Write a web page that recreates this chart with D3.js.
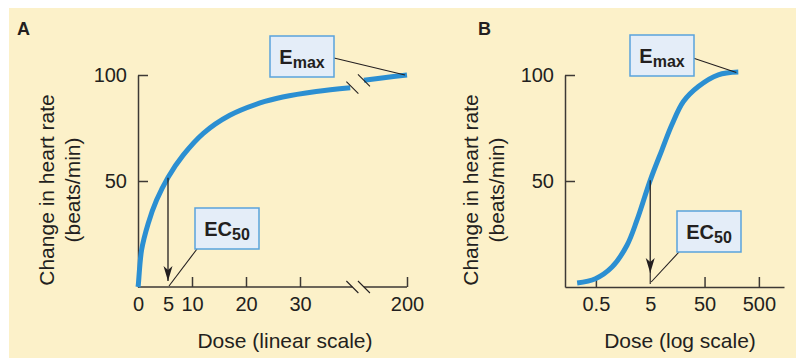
<!DOCTYPE html>
<html>
<head>
<meta charset="utf-8">
<script src="https://cdn.jsdelivr.net/npm/d3@7"></script>
<style>
  body { margin: 0; background: #fff; }
  svg { display: block; font-family: 'Liberation Sans', Arial, Helvetica, sans-serif; }
  .axis path, .axis line { stroke: #3d3935; stroke-width: 1.5; }
  .axis text { font-size: 20px; fill: #231f20; font-family: 'Liberation Sans', Arial, sans-serif; }
  .label { font-size: 21px; fill: #231f20; }
</style>
</head>
<body>
<script>
// Panel A - linear dose axis (broken between ~40 and 200)
var doseA = [0, 0.05, 0.6, 1.7, 3.1, 5, 8.2, 12.1, 17, 22.6, 26.8, 33, 39.3, null, 70, 130, 200]
var effectA = [0, 1, 17.5, 30, 41, 51.7, 62.3, 72.5, 81, 86.8, 89.6, 92.2, 94, null, 97.5, 98.7, 100]
var ticksA = [0, 5, 10, 20, 30, 200]
// Panel B - log dose axis
var doseB = [0.226, 0.49, 0.99, 1.87, 2.85, 5, 8.2, 12.5, 20.4, 38.5, 89.6, 209]
var effectB = [1.9, 3.9, 9.4, 19.7, 31.5, 50.3, 64.6, 76.5, 87.5, 94.6, 100.1, 101.4]
var ticksB = [0.5, 5, 50, 500]
var ticksY = [50, 100]
var ec50 = 5

var w = 796, h = 358
var ink = '#231f20'
var curveColor = '#2b8fd2'

var svg = d3.select('body').append('svg')
    .attr('width', w)
    .attr('height', h)

// background panel
svg.append('rect')
    .attr('x', 9).attr('y', 8)
    .attr('width', w - 9).attr('height', h - 8)
    .attr('fill', '#fcf1c9')

// Scales
var xA = d3.scaleLinear().domain([0, 5, 10, 40, 200]).range([138, 168, 192, 354, 407])
var yA = d3.scaleLinear().domain([0, 100]).range([287, 75])
var xB = d3.scaleLog().domain([0.135, 1450]).range([565, 784])
var yB = d3.scaleLinear().domain([0, 100]).range([287, 75])

var dataA = doseA.map(function (d, i) { return [d, effectA[i]] })
var dataB = doseB.map(function (d, i) { return [d, effectB[i]] })

// arrow head (points along the line direction)
svg.append('defs').append('marker')
    .attr('id', 'head')
    .attr('viewBox', '-16 -5 17 10')
    .attr('refX', 0).attr('refY', 0)
    .attr('markerWidth', 17).attr('markerHeight', 10)
    .attr('markerUnits', 'userSpaceOnUse')
    .attr('orient', 'auto')
  .append('path')
    .attr('d', 'M0,0L-15,-4.5L-11,0L-15,4.5Z')
    .attr('fill', ink)

function panelLetter(x, t) {
  svg.append('text')
      .attr('x', x).attr('y', 35)
      .attr('font-size', 18).attr('font-weight', 'bold')
      .attr('fill', ink)
      .text(t)
}

function yLabel(x) {
  svg.append('text').attr('class', 'label')
      .attr('transform', 'translate(' + x + ',190) rotate(-90)')
      .attr('text-anchor', 'middle')
      .text('Change in heart rate')
  svg.append('text').attr('class', 'label')
      .attr('transform', 'translate(' + (x + 26) + ',190) rotate(-90)')
      .attr('text-anchor', 'middle')
      .text('(beats/min)')
}

function box(x, y, main, sub) {
  var g = svg.append('g').attr('transform', 'translate(' + x + ',' + y + ')')
  g.append('rect')
      .attr('width', 64).attr('height', 41)
      .attr('fill', '#e4edf8')
      .attr('stroke', '#59a3dc')
      .attr('stroke-width', 1.5)
  var t = g.append('text')
      .attr('x', 32).attr('y', 27.5)
      .attr('text-anchor', 'middle')
      .attr('font-weight', 'bold')
      .attr('fill', ink)
  t.append('tspan').attr('font-size', 20).text(main)
  t.append('tspan').attr('font-size', 16).attr('dy', 4).text(sub)
}

function pointer(x1, y1, x2, y2) {
  svg.append('line')
      .attr('x1', x1).attr('y1', y1)
      .attr('x2', x2).attr('y2', y2)
      .attr('stroke', ink)
      .attr('stroke-width', 1.1)
}

function slash(cx, cy) {
  svg.append('line')
      .attr('x1', cx - 6).attr('y1', cy - 6)
      .attr('x2', cx + 6).attr('y2', cy + 6)
      .attr('stroke', ink)
      .attr('stroke-width', 1.1)
}

// ---------- Panel A ----------
panelLetter(17, 'A')
yLabel(54)

svg.append('g')
    .attr('class', 'axis')
    .attr('transform', 'translate(' + xA(0) + ',0)')
    .call(d3.axisLeft(yA).tickValues(ticksY).tickSizeInner(-10).tickSizeOuter(0).tickPadding(11))

var axA = svg.append('g')
    .attr('class', 'axis')
    .attr('transform', 'translate(0,' + yA(0) + ')')
    .call(d3.axisBottom(xA).tickValues(ticksA).tickSizeInner(-10).tickSizeOuter(0).tickPadding(10))
axA.select('.domain').remove()
axA.selectAll('.tick line').filter(function (d) { return d < 10 }).remove()

var breakL = xA(39.7), breakR = xA(70)
axA.append('path')
    .attr('fill', 'none')
    .attr('d', 'M' + xA(0) + ',0H' + breakL + 'M' + breakR + ',0H' + xA(200))
slash(breakL, yA(0))
slash(breakR, yA(0))

svg.append('text').attr('class', 'label')
    .attr('x', 285).attr('y', 348)
    .attr('text-anchor', 'middle')
    .text('Dose (linear scale)')

var lineA = d3.line()
    .defined(function (d) { return d[0] != null })
    .x(function (d) { return xA(d[0]) })
    .y(function (d) { return yA(d[1]) })
    .curve(d3.curveCatmullRom.alpha(0.5))

svg.append('path')
    .datum(dataA)
    .attr('d', lineA)
    .attr('fill', 'none')
    .attr('stroke', curveColor)
    .attr('stroke-width', 5)
slash(breakL, yA(94))
slash(breakR, yA(97.5))

// EC50 arrow + labels
svg.append('line')
    .attr('x1', xA(ec50)).attr('y1', yA(51.5))
    .attr('x2', xA(ec50)).attr('y2', yA(0) - 6)
    .attr('stroke', ink).attr('stroke-width', 1.3)
    .attr('marker-end', 'url(#head)')
pointer(xA(200) - 2, yA(100), 334, 58)
box(270, 36, 'E', 'max')
pointer(xA(ec50) + 1, yA(0) - 1, 197, 249)
box(195, 208, 'EC', '50')

// ---------- Panel B ----------
panelLetter(478, 'B')
yLabel(478)

svg.append('g')
    .attr('class', 'axis')
    .attr('transform', 'translate(' + xB.range()[0] + ',0)')
    .call(d3.axisLeft(yB).tickValues(ticksY).tickSizeInner(-10).tickSizeOuter(0).tickPadding(11))

svg.append('g')
    .attr('class', 'axis')
    .attr('transform', 'translate(0,' + yB(0) + ')')
    .call(d3.axisBottom(xB).tickValues(ticksB).tickFormat(d3.format('')).tickSizeInner(-10).tickSizeOuter(0).tickPadding(10))
  .selectAll('.tick line').filter(function (d) { return d === ec50 }).remove()

svg.append('text').attr('class', 'label')
    .attr('x', 680).attr('y', 348)
    .attr('text-anchor', 'middle')
    .text('Dose (log scale)')

var lineB = d3.line()
    .x(function (d) { return xB(d[0]) })
    .y(function (d) { return yB(d[1]) })
    .curve(d3.curveCatmullRom.alpha(0.5))

svg.append('path')
    .datum(dataB)
    .attr('d', lineB)
    .attr('fill', 'none')
    .attr('stroke', curveColor)
    .attr('stroke-width', 5)

svg.append('line')
    .attr('x1', xB(ec50)).attr('y1', yB(50.3))
    .attr('x2', xB(ec50)).attr('y2', yB(0) - 14)
    .attr('stroke', ink).attr('stroke-width', 1.3)
    .attr('marker-end', 'url(#head)')
pointer(xB(ec50), yB(0) - 14, xB(ec50), yB(0) - 3)
pointer(xB(209) - 2, yB(101.2), 693, 58)
box(630, 35, 'E', 'max')
pointer(xB(ec50) + 1, yB(0) - 5, 679, 252)
box(677, 211, 'EC', '50')
</script>
</body>
</html>
